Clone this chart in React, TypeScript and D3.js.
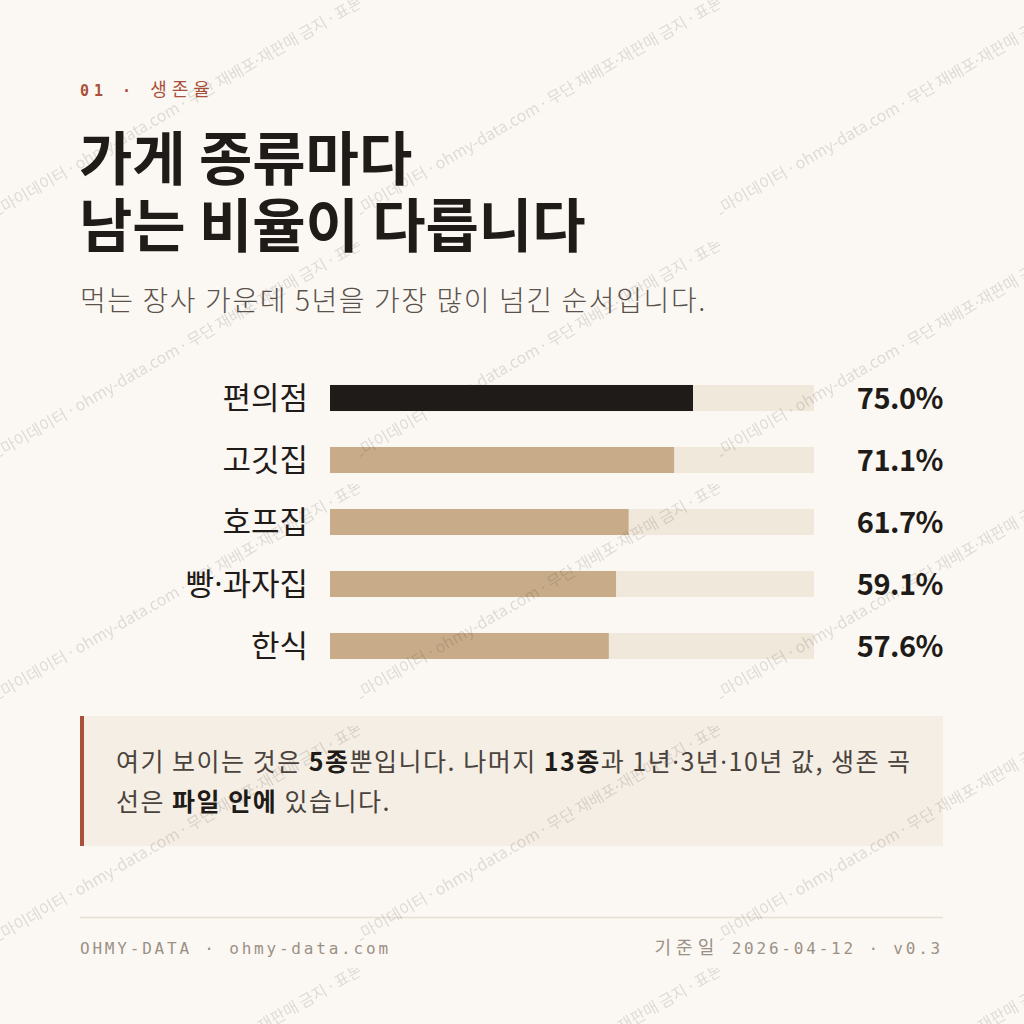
import React from "react";
import * as d3 from "d3";

const categories = ["편의점", "고깃집", "호프집", "빵·과자집", "한식"];
const survival5y = [75.0, 71.1, 61.7, 59.1, 57.6];
const highlight = [true, false, false, false, false];
const domainMax = 100;

const eyebrowNum = "01 · ";
const eyebrowWord = "생존율";
const titleLines = ["가게 종류마다", "남는 비율이 다릅니다"];
const subtitle = "먹는 장사 가운데 5년을 가장 많이 넘긴 순서입니다.";
const footerLeft = "OHMY-DATA · ohmy-data.com";
const footerRightWord = "기준일";
const footerRightRest = " 2026-04-12 · v0.3";
const wmLeft = "오마이데이터 · ohmy-data.com";
const wmRight = "무단 재배포·재판매 금지 · 표본 외 사용 금지";

const W = 1024;
const H = 1024;
const BG = "#fbf8f3";
const INK = "#1f1b18";
const RUST = "#a8503a";
const TAN = "#c8ac8a";
const TRACK = "#f1e8dc";
const SANS = "'Noto Sans CJK KR', 'Noto Sans', sans-serif";
const LATIN = "'Noto Sans', sans-serif";
const MONO = "'DejaVu Sans Mono', 'Noto Sans CJK KR', monospace";

// render "·" with a proportional Latin font so it stays narrow
function dots(s: string, key: string) {
  const parts = s.split("·");
  const out: React.ReactNode[] = [];
  parts.forEach((p, i) => {
    if (i > 0)
      out.push(
        <tspan key={key + "d" + i} fontFamily={LATIN}>
          ·
        </tspan>
      );
    if (p) out.push(<tspan key={key + "p" + i}>{p}</tspan>);
  });
  return out;
}

export default function App() {
  const x = d3.scaleLinear().domain([0, domainMax]).range([330, 814]);
  const y = d3
    .scaleBand<string>()
    .domain(categories)
    .range([367, 677])
    .paddingInner(0.58)
    .paddingOuter(0.29);
  const bh = y.bandwidth();

  return (
    <>
      <style>{`body{margin:0;background:${BG}}`}</style>
      <svg width={W} height={H} viewBox={`0 0 ${W} ${H}`} style={{ display: "block" }}>
        <defs>
          <pattern id="wm" width={360} height={242} patternUnits="userSpaceOnUse">
            <g transform="translate(180,106) rotate(-30)" fontFamily={SANS} fontSize={16} fill="#2a211b">
              <text x={-2} y={5} textAnchor="end">{dots(wmLeft, "l")}</text>
              <text x={4} y={5} textAnchor="middle" fontFamily={LATIN}>·</text>
              <text x={10} y={5} textAnchor="start">{dots(wmRight, "r")}</text>
            </g>
          </pattern>
        </defs>
        <rect width={W} height={H} fill={BG} />

        <text x={80} y={96} fontFamily={MONO} fontSize={15} fill={RUST} letterSpacing={5}>
          <tspan fontWeight={700}>{eyebrowNum}</tspan>
          <tspan fontFamily={SANS} fontSize={18} letterSpacing={5}>{eyebrowWord}</tspan>
        </text>

        {titleLines.map((t, i) => (
          <text key={i} x={79} y={180 + i * 67} fontFamily={SANS} fontSize={58} fontWeight={700} fill={INK}>
            {t}
          </text>
        ))}

        <text x={80} y={311} fontFamily={SANS} fontSize={28} fontWeight={300} fill="#5a524b" letterSpacing={1.6}>
          {subtitle}
        </text>

        {categories.map((c, i) => {
          const yy = y(c)!;
          const cy = yy + bh / 2;
          return (
            <g key={c}>
              <rect x={x(0)} y={yy} width={x(domainMax) - x(0)} height={bh} fill={TRACK} />
              <rect x={x(0)} y={yy} width={x(survival5y[i]) - x(0)} height={bh} fill={highlight[i] ? INK : TAN} />
              <text x={308} y={cy + 11} textAnchor="end" fontFamily={SANS} fontSize={31} fill={INK}>
                {dots(c, c)}
              </text>
              <text x={943} y={cy + 11} textAnchor="end" fontFamily={SANS} fontSize={29} fontWeight={700} fill={INK} letterSpacing={-0.5}>
                {d3.format(".1f")(survival5y[i])}%
              </text>
            </g>
          );
        })}

        <rect x={80} y={716} width={863} height={130} fill="#f5eee4" />
        <rect x={80} y={716} width={4} height={130} fill={RUST} />
        <text x={116} y={771} fontFamily={SANS} fontSize={25} fill="#4a433d" letterSpacing={1.5}>
          <tspan>여기 보이는 것은 </tspan>
          <tspan fontWeight={700} fill={INK}>5종</tspan>
          <tspan>뿐입니다. 나머지 </tspan>
          <tspan fontWeight={700} fill={INK}>13종</tspan>
          {dots("과 1년·3년·10년 값, 생존 곡", "c1")}
        </text>
        <text x={116} y={811} fontFamily={SANS} fontSize={25} fill="#4a433d" letterSpacing={1.5}>
          <tspan>선은 </tspan>
          <tspan fontWeight={700} fill={INK}>파일 안에</tspan>
          <tspan> 있습니다.</tspan>
        </text>

        <line x1={80} x2={943} y1={917.5} y2={917.5} stroke="#e6dfd4" strokeWidth={1.5} />
        <text x={80} y={954} fontFamily={MONO} fontSize={16} fill="#9b9086" letterSpacing={2.8}>
          {footerLeft}
        </text>
        <text x={943} y={954} textAnchor="end" fontFamily={MONO} fontSize={16} fill="#9b9086" letterSpacing={2.8}>
          <tspan fontFamily={SANS} fontSize={18} letterSpacing={5}>{footerRightWord}</tspan>
          <tspan>{footerRightRest}</tspan>
        </text>

        <rect width={W} height={H} fill="url(#wm)" opacity={0.14} />
      </svg>
    </>
  );
}
